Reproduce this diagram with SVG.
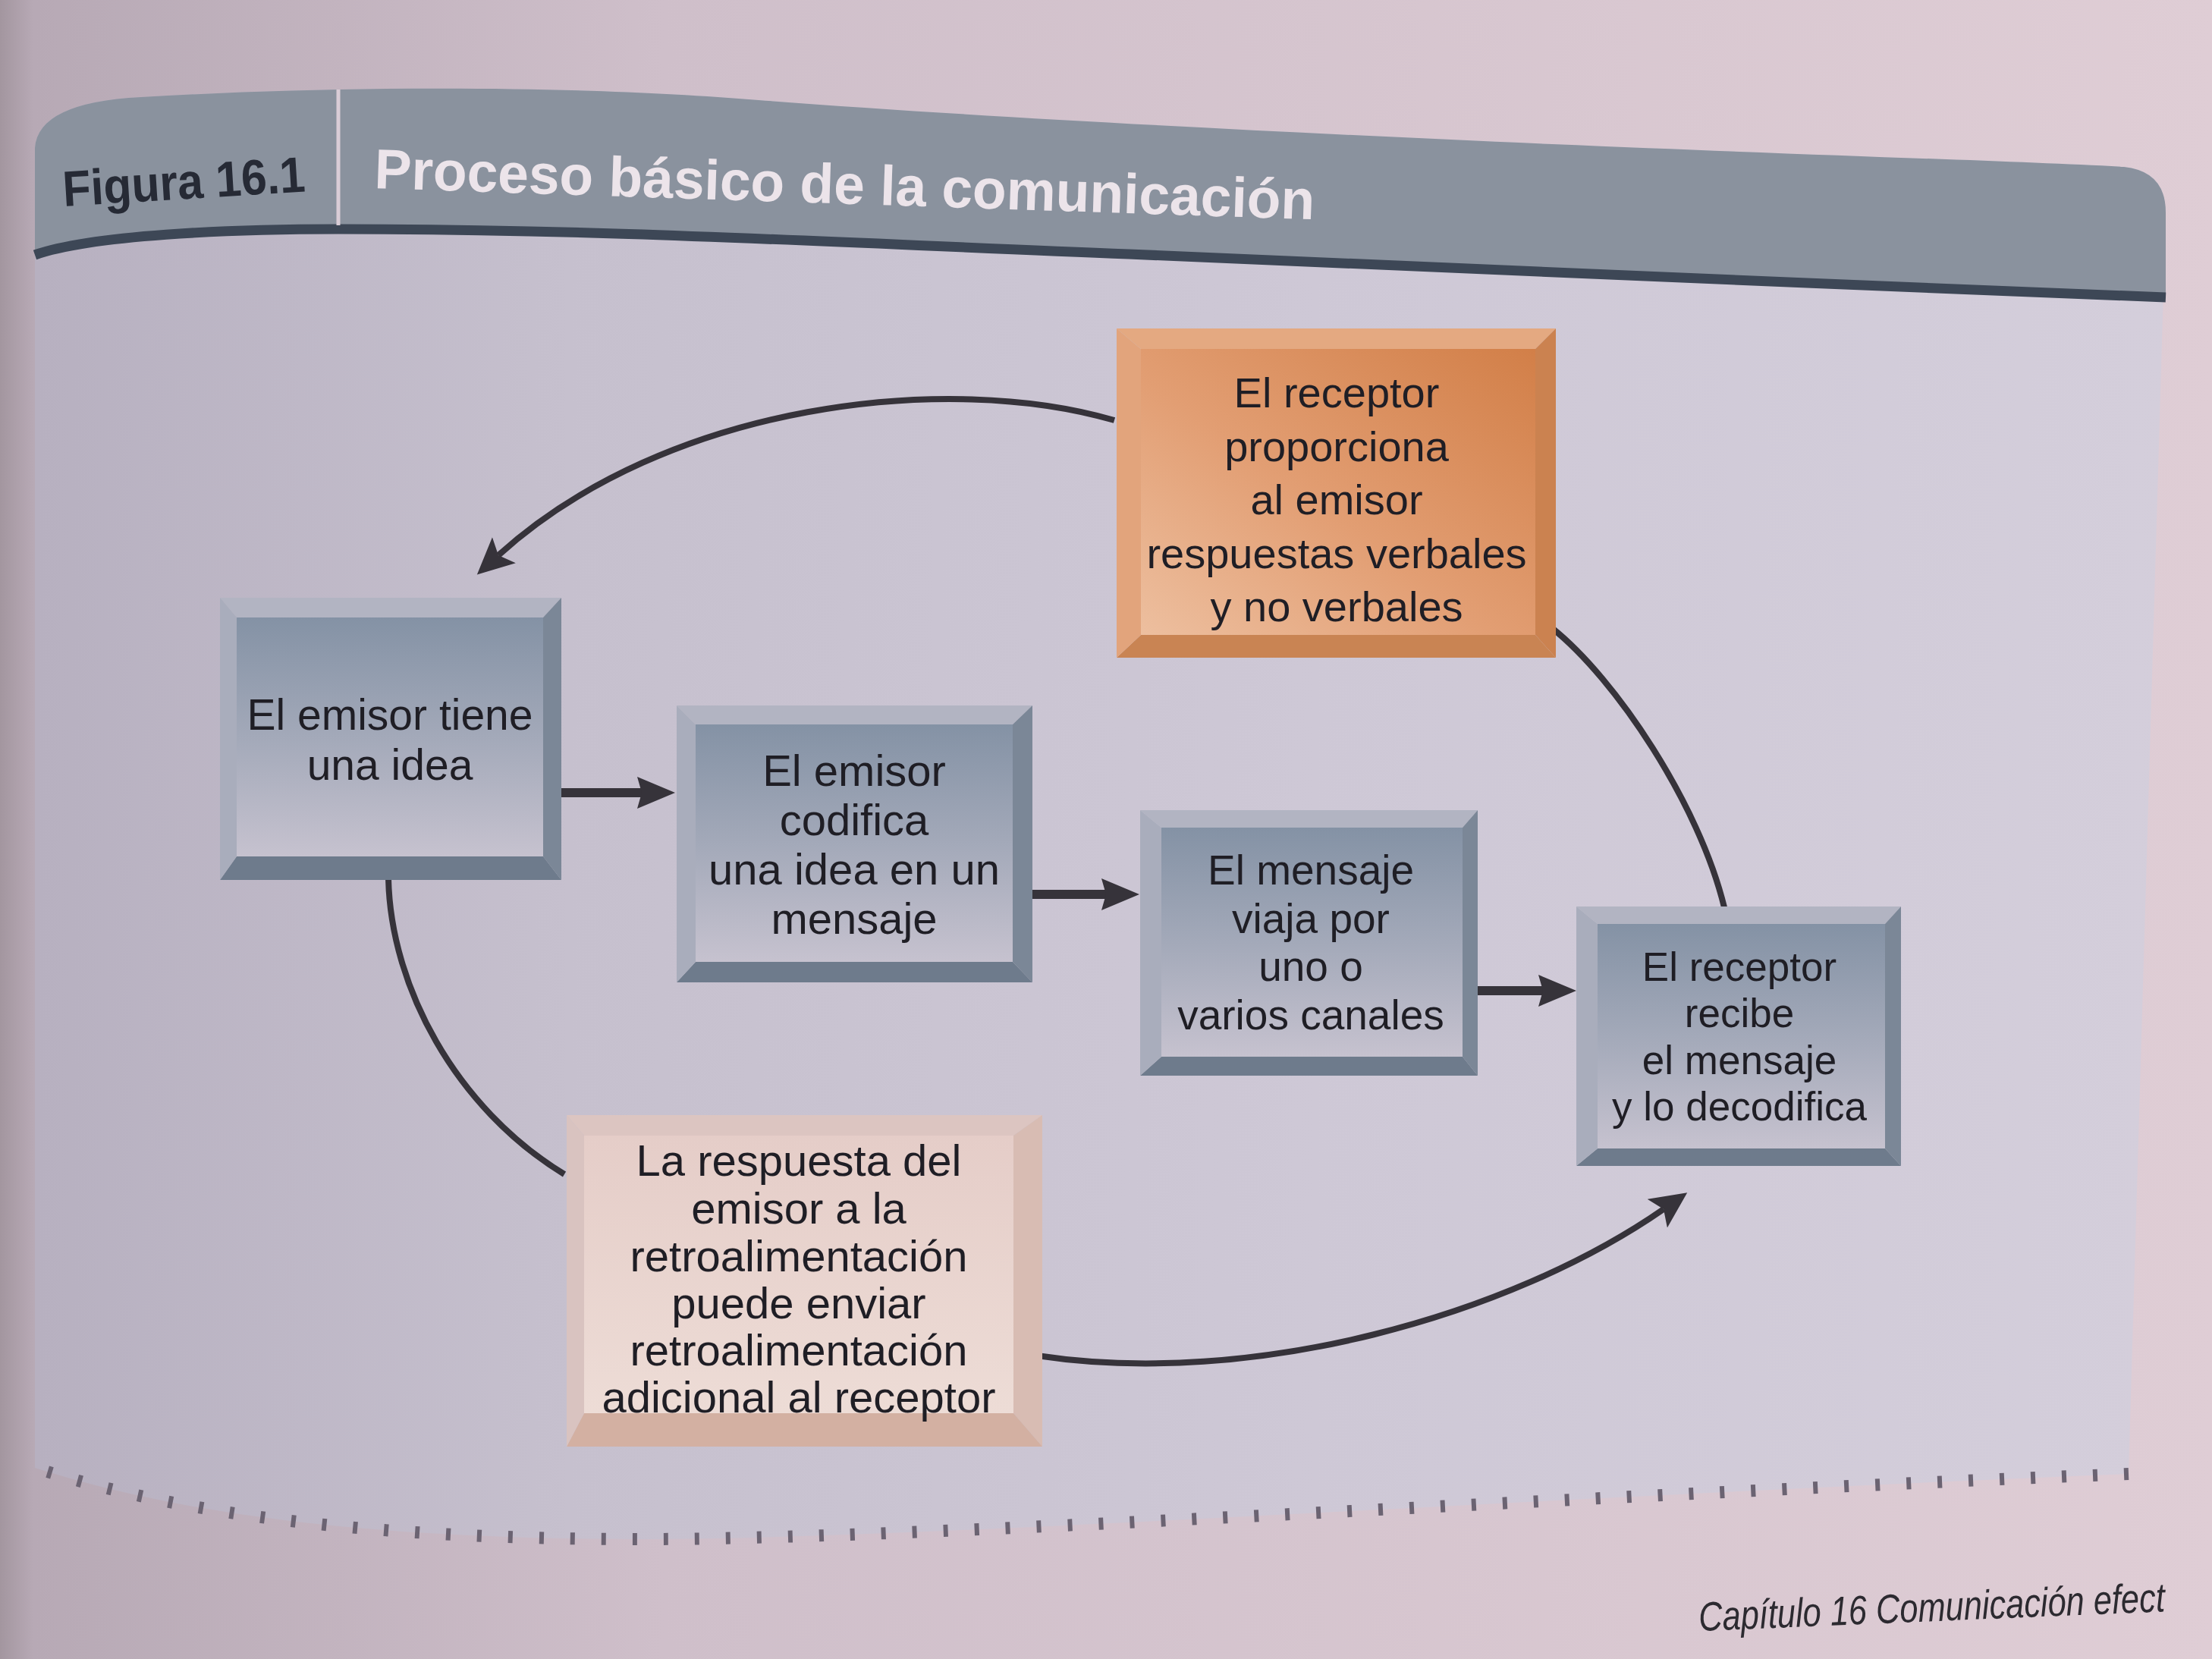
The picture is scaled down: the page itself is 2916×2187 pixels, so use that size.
<svg xmlns="http://www.w3.org/2000/svg" width="2916" height="2187" viewBox="0 0 2916 2187">
<defs>
<style>
.nt{font-family:"Liberation Sans",Arial,Helvetica,sans-serif;fill:#1f1e25;text-anchor:middle}
.conn{fill:none;stroke:#36333a;stroke-width:8;stroke-linecap:butt}
.straight{fill:none;stroke:#36333a;stroke-width:12}
.bt{fill:#b2b4c2}.bl{fill:#a9adbc}.br{fill:#7b8797}.bb{fill:#6e7b8c}
.ot{fill:#e4a981}.ol{fill:#e2a47c}.or{fill:#cb8250}.ob{fill:#c98453}
.pt{fill:#dcc5c1}.pl{fill:#d9c3c0}.pr{fill:#d8bcb3}.pb{fill:#d3b0a2}
</style>
<linearGradient id="page" x1="0" y1="0" x2="1" y2="0">
<stop offset="0" stop-color="#a3969f"/>
<stop offset="0.015" stop-color="#b7a9b5"/>
<stop offset="0.3" stop-color="#cfbfca"/>
<stop offset="1" stop-color="#dfcdd5"/>
</linearGradient>
<linearGradient id="panel" x1="0" y1="0" x2="1" y2="0">
<stop offset="0" stop-color="#b7b0c0"/>
<stop offset="0.25" stop-color="#c6c0ce"/>
<stop offset="0.6" stop-color="#cec8d6"/>
<stop offset="1" stop-color="#d4cedb"/>
</linearGradient>
<linearGradient id="bface" x1="0" y1="0" x2="0" y2="1">
<stop offset="0" stop-color="#8492a5"/>
<stop offset="0.5" stop-color="#a3a9b9"/>
<stop offset="1" stop-color="#c6c2cf"/>
</linearGradient>
<linearGradient id="oface" x1="1" y1="0" x2="0" y2="1">
<stop offset="0" stop-color="#d27f48"/>
<stop offset="0.55" stop-color="#e29e73"/>
<stop offset="1" stop-color="#edbf9f"/>
</linearGradient>
<linearGradient id="pface" x1="0" y1="0" x2="0" y2="1">
<stop offset="0" stop-color="#e5cdc8"/>
<stop offset="1" stop-color="#eddcd6"/>
</linearGradient>
<marker id="headS" markerUnits="userSpaceOnUse" markerWidth="56" markerHeight="46" refX="6" refY="21" orient="auto" viewBox="0 0 56 46">
<path d="M0,0 L50,21 L0,42 L6,21 Z" fill="#36333a"/>
</marker>
<marker id="headC" markerUnits="userSpaceOnUse" markerWidth="56" markerHeight="50" refX="10" refY="23" orient="auto" viewBox="0 0 56 50">
<path d="M0,0 L48,23 L0,46 L10,23 Z" fill="#36333a"/>
</marker>
</defs>

<!-- page -->
<rect x="0" y="0" width="2916" height="2187" fill="url(#page)"/>

<!-- panel body -->
<path d="M46,195 Q50,135 186,128 C500,110 800,115 1000,132 C1300,155 1700,175 2046,190 C2400,205 2650,212 2800,220 Q2855,226 2855,280 L2806,1943 C2000,1975 1200,2030 837,2029 C500,2028 250,2000 46,1935 Z" fill="url(#panel)"/>

<!-- header band -->
<path d="M46,195 Q50,135 186,128 C500,110 800,115 1000,132 C1300,155 1700,175 2046,190 C2400,205 2650,212 2800,220 Q2855,226 2855,280 L2855,392 C2400,375 1900,352 1488,335 C1100,320 800,302 446,302 C300,302 120,310 46,336 Z" fill="#8a929e"/>
<path d="M46,336 C120,310 300,302 446,302 C800,302 1100,320 1488,335 C1900,352 2400,375 2855,392" fill="none" stroke="#3d4756" stroke-width="13"/>
<line x1="446" y1="118" x2="446" y2="297" stroke="#d9ccd6" stroke-width="5"/>

<!-- bottom dashed edge -->
<path d="M2806,1943 C2000,1975 1200,2030 837,2029 C500,2028 250,2000 46,1935" fill="none" stroke="#6b6372" stroke-width="16" stroke-dasharray="6 35"/>

<!-- header texts -->
<text x="84" y="272" transform="rotate(-3.5 84 272)" font-family="'Liberation Sans',Arial,sans-serif" font-weight="bold" font-size="66" fill="#262a35" textLength="320" lengthAdjust="spacingAndGlyphs">Figura 16.1</text>
<text x="493" y="248" transform="rotate(1.9 493 248)" font-family="'Liberation Sans',Arial,sans-serif" font-weight="bold" font-size="74" fill="#ece4ea" textLength="1240" lengthAdjust="spacingAndGlyphs">Proceso básico de la comunicación</text>

<!-- footer -->
<text x="2240" y="2150" transform="rotate(-2.4 2240 2150)" font-family="'Liberation Sans',Arial,sans-serif" font-style="italic" font-size="54" fill="#2c2a30" textLength="615" lengthAdjust="spacingAndGlyphs">Capítulo 16  Comunicación efect</text>

<!-- connectors -->
<g id="connectors">
<line class="straight" x1="740" y1="1045" x2="846" y2="1045" marker-end="url(#headS)"/>
<line class="straight" x1="1361" y1="1179" x2="1458" y2="1179" marker-end="url(#headS)"/>
<line class="straight" x1="1947" y1="1306" x2="2034" y2="1306" marker-end="url(#headS)"/>
<path class="conn" d="M1469,554 C1250,490 880,530 657,732" marker-end="url(#headC)"/>
<path class="conn" d="M2046,828 C2130,895 2240,1060 2273,1196"/>
<path class="conn" d="M512,1158 C515,1300 600,1460 744,1548"/>
<path class="conn" d="M1367,1787 C1650,1830 1990,1735 2193,1594" marker-end="url(#headC)"/>
</g>

<!-- node 1 -->
<g id="n1">
<polygon class="bt" points="290,788 740,788 716,814 312,814"/>
<polygon class="br" points="740,788 740,1160 716,1129 716,814"/>
<polygon class="bb" points="290,1160 740,1160 716,1129 312,1129"/>
<polygon class="bl" points="290,788 312,814 312,1129 290,1160"/>
<rect x="312" y="814" width="404" height="315" fill="url(#bface)"/>
<text class="nt" font-size="57"><tspan x="514" y="962">El emisor tiene</tspan><tspan x="514" y="1028">una idea</tspan></text>
</g>

<!-- node 2 -->
<g id="n2">
<polygon class="bt" points="892,930 1361,930 1335,955 917,955"/>
<polygon class="br" points="1361,930 1361,1295 1335,1268 1335,955"/>
<polygon class="bb" points="892,1295 1361,1295 1335,1268 917,1268"/>
<polygon class="bl" points="892,930 917,955 917,1268 892,1295"/>
<rect x="917" y="955" width="418" height="313" fill="url(#bface)"/>
<text class="nt" font-size="58"><tspan x="1126" y="1036">El emisor</tspan><tspan x="1126" y="1101">codifica</tspan><tspan x="1126" y="1166">una idea en un</tspan><tspan x="1126" y="1231">mensaje</tspan></text>
</g>

<!-- node 3 -->
<g id="n3">
<polygon class="bt" points="1503,1068 1948,1068 1928,1091 1531,1091"/>
<polygon class="br" points="1948,1068 1948,1418 1928,1393 1928,1091"/>
<polygon class="bb" points="1503,1418 1948,1418 1928,1393 1531,1393"/>
<polygon class="bl" points="1503,1068 1531,1091 1531,1393 1503,1418"/>
<rect x="1531" y="1091" width="397" height="302" fill="url(#bface)"/>
<text class="nt" font-size="55"><tspan x="1728" y="1166">El mensaje</tspan><tspan x="1728" y="1230">viaja por</tspan><tspan x="1728" y="1293">uno o</tspan><tspan x="1728" y="1357">varios canales</tspan></text>
</g>

<!-- node 4 -->
<g id="n4">
<polygon class="bt" points="2078,1195 2506,1195 2485,1218 2106,1218"/>
<polygon class="br" points="2506,1195 2506,1537 2485,1514 2485,1218"/>
<polygon class="bb" points="2078,1537 2506,1537 2485,1514 2106,1514"/>
<polygon class="bl" points="2078,1195 2106,1218 2106,1514 2078,1537"/>
<rect x="2106" y="1218" width="379" height="296" fill="url(#bface)"/>
<text class="nt" font-size="53"><tspan x="2293" y="1293">El receptor</tspan><tspan x="2293" y="1354">recibe</tspan><tspan x="2293" y="1416">el mensaje</tspan><tspan x="2293" y="1477">y lo decodifica</tspan></text>
</g>

<!-- node 5 -->
<g id="n5">
<polygon class="ot" points="1472,433 2051,433 2024,460 1504,460"/>
<polygon class="or" points="2051,433 2051,867 2024,837 2024,460"/>
<polygon class="ob" points="1472,867 2051,867 2024,837 1504,837"/>
<polygon class="ol" points="1472,433 1504,460 1504,837 1472,867"/>
<rect x="1504" y="460" width="520" height="377" fill="url(#oface)"/>
<text class="nt" font-size="56"><tspan x="1762" y="537">El receptor</tspan><tspan x="1762" y="608">proporciona</tspan><tspan x="1762" y="678">al emisor</tspan><tspan x="1762" y="749">respuestas verbales</tspan><tspan x="1762" y="819">y no verbales</tspan></text>
</g>

<!-- node 6 -->
<g id="n6">
<polygon class="pt" points="747,1470 1374,1470 1336,1497 770,1497"/>
<polygon class="pr" points="1374,1470 1374,1907 1336,1863 1336,1497"/>
<polygon class="pb" points="747,1907 1374,1907 1336,1863 770,1863"/>
<polygon class="pl" points="747,1470 770,1497 770,1863 747,1907"/>
<rect x="770" y="1497" width="566" height="366" fill="url(#pface)"/>
<text class="nt" font-size="58"><tspan x="1053" y="1550">La respuesta del</tspan><tspan x="1053" y="1613">emisor a la</tspan><tspan x="1053" y="1676">retroalimentación</tspan><tspan x="1053" y="1738">puede enviar</tspan><tspan x="1053" y="1800">retroalimentación</tspan><tspan x="1053" y="1862">adicional al receptor</tspan></text>
</g>
</svg>
